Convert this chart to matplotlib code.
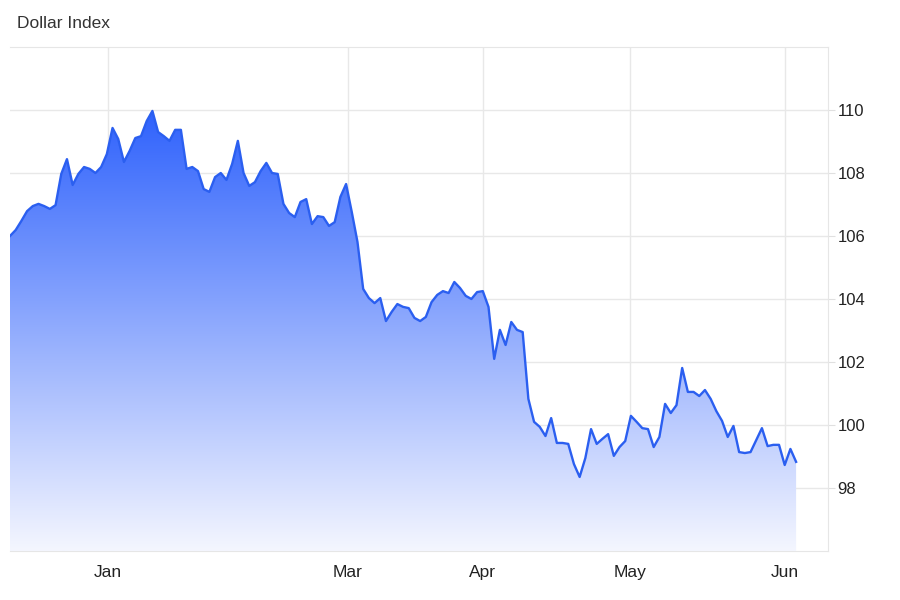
import numpy as np
import matplotlib
matplotlib.use("Agg")
import matplotlib.pyplot as plt
from matplotlib.colors import LinearSegmentedColormap
from matplotlib.patches import Polygon

plt.rcParams['font.family'] = ['Liberation Sans', 'DejaVu Sans']

# daily closes, Dec 2024 - early Jun 2025
dxy = [
    106.00, 106.19, 106.48, 106.79, 106.95, 107.02, 106.95, 106.86, 106.98, 107.97,
    108.44, 107.62, 107.97, 108.19, 108.13, 108.00, 108.19, 108.60, 109.43, 109.08,
    108.35, 108.70, 109.11, 109.17, 109.65, 109.97, 109.30, 109.17, 109.02, 109.37,
    109.37, 108.13, 108.19, 108.06, 107.49, 107.40, 107.87, 108.00, 107.78, 108.29,
    109.02, 108.00, 107.59, 107.71, 108.06, 108.32, 108.00, 107.97, 107.02, 106.73,
    106.60, 107.08, 107.17, 106.38, 106.63, 106.60, 106.32, 106.44, 107.24, 107.65,
    106.76, 105.81, 104.32, 104.03, 103.87, 104.03, 103.30, 103.59, 103.84, 103.75,
    103.71, 103.40, 103.30, 103.43, 103.90, 104.13, 104.25, 104.19, 104.54, 104.35,
    104.10, 104.00, 104.22, 104.25, 103.75, 102.10, 103.02, 102.54, 103.27, 103.02,
    102.95, 100.83, 100.10, 99.94, 99.65, 100.22, 99.43, 99.43, 99.40, 98.76,
    98.35, 98.95, 99.87, 99.40, 99.56, 99.71, 99.02, 99.30, 99.49, 100.29,
    100.10, 99.90, 99.87, 99.30, 99.62, 100.67, 100.38, 100.63, 101.81, 101.05,
    101.05, 100.92, 101.11, 100.83, 100.44, 100.13, 99.62, 99.97, 99.14, 99.11,
    99.14, 99.52, 99.90, 99.33, 99.37, 99.37, 98.73, 99.24, 98.83,
]
month_labels = ['Jan', 'Mar', 'Apr', 'May', 'Jun']
month_pos = [17.2, 59.3, 83.0, 108.8, 136.1]   # index of first session of each month
y_ticks = [98, 100, 102, 104, 106, 108, 110]

x = np.arange(len(dxy))
vals = np.array(dxy)
y_min, y_max = 96, 112

fig = plt.figure(figsize=(9, 6), dpi=100)
ax = fig.add_axes([10 / 900, 1 - 551 / 600, 818 / 900, 504 / 600])
ax.set_xlim(0, 143.6)
ax.set_ylim(y_min, y_max)

# gradient fill under the line
cmap = LinearSegmentedColormap.from_list('fade', ['#f4f6ff', '#2f62fc'])
grad = np.linspace(0, 1, 256).reshape(-1, 1)
im = ax.imshow(grad, cmap=cmap, origin='lower', aspect='auto',
               extent=[0, x[-1], y_min, vals.max()], zorder=1)
verts = np.column_stack([np.r_[x, x[::-1]], np.r_[vals, np.full(len(x), y_min)]])
clip = Polygon(verts, closed=True, facecolor='none', edgecolor='none')
ax.add_patch(clip)
im.set_clip_path(clip)

ax.plot(x, vals, color='#2b5ff0', lw=1.7, zorder=3)

ax.set_xticks(month_pos)
ax.set_xticklabels(month_labels)
ax.set_yticks(y_ticks)
ax.yaxis.tick_right()
ax.grid(True, color='#e8e8e8', lw=1, zorder=0)
ax.set_axisbelow(True)
ax.tick_params(axis='y', length=5, color='#e0e0e0', labelsize=12, labelcolor='#222222', pad=2)
ax.tick_params(axis='x', length=0, labelsize=12.5, labelcolor='#222222', pad=10)
for side in ['top', 'bottom', 'right']:
    ax.spines[side].set_color('#e6e6e6')
ax.spines['left'].set_visible(False)

fig.text(17 / 900, 1 - 24 / 600, 'Dollar Index', fontsize=12.5, color='#333333', va='center')

fig.savefig('out.png', dpi=100)
